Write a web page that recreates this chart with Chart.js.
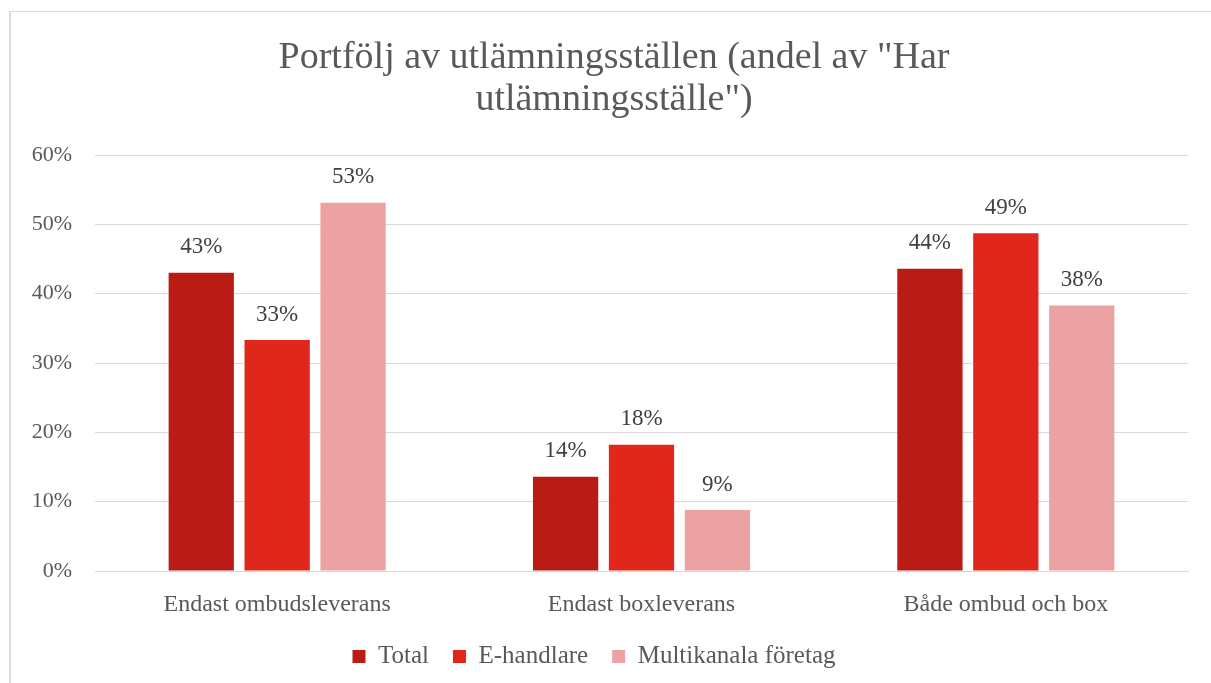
<!DOCTYPE html>
<html>
<head>
<meta charset="utf-8">
<script src="https://cdn.jsdelivr.net/npm/chart.js@4"></script>
<style>
    html, body { margin: 0; padding: 0; background: #fff; }
    #wrap { position: relative; width: 1211px; height: 683px; }
    #frame { position: absolute; left: 9px; top: 11px; right: -10px; bottom: -10px;
             border-left: 2px solid #d9d9d9; border-top: 1px solid #d9d9d9; }
    canvas { position: absolute; left: 0; top: 0; }
</style>
</head>
<body>
<div id="wrap">
    <div id="frame"></div>
    <canvas id="chart" width="1211" height="683"></canvas>
</div>
<script>
const categories = ['Endast ombudsleverans', 'Endast boxleverans', 'Både ombud och box'];
const totalValues = [43.0, 13.6, 43.6];
const eHandlareValues = [33.3, 18.2, 48.7];
const multikanalaValues = [53.1, 8.8, 38.3];
const yTicks = [0, 10, 20, 30, 40, 50, 60];
const titleLines = ['Portfölj av utlämningsställen (andel av "Har', 'utlämningsställe")'];

const fontFamily = '"Liberation Serif", "DejaVu Serif", serif';
const textColor = '#595959';

// draws the percentage above each bar
const valueLabels = {
    id: 'valueLabels',
    afterDatasetsDraw(chart) {
        const ctx = chart.ctx;
        ctx.save();
        ctx.font = '23px ' + fontFamily;
        ctx.fillStyle = '#404040';
        ctx.textAlign = 'center';
        ctx.textBaseline = 'bottom';
        chart.data.datasets.forEach(function(ds, i) {
            chart.getDatasetMeta(i).data.forEach(function(bar, j) {
                ctx.fillText(Math.round(ds.data[j]) + '%', bar.x, bar.y - 14);
            });
        });
        ctx.restore();
    }
};

// title centred on the whole frame, not on the plot
const frameTitle = {
    id: 'frameTitle',
    afterDraw(chart) {
        const ctx = chart.ctx;
        ctx.save();
        ctx.font = '38px ' + fontFamily;
        ctx.fillStyle = textColor;
        ctx.textAlign = 'center';
        ctx.textBaseline = 'middle';
        titleLines.forEach(function(line, i) {
            ctx.fillText(line, 614, 58 + i * 42);
        });
        ctx.restore();
    }
};

const chartCtx = document.getElementById('chart');
new Chart(chartCtx, {
    type: 'bar',
    data: {
        labels: categories,
        datasets: [
            { label: 'Total', data: totalValues, backgroundColor: '#b91c14' },
            { label: 'E-handlare', data: eHandlareValues, backgroundColor: '#e1261c' },
            { label: 'Multikanala företag', data: multikanalaValues, backgroundColor: '#eca2a2' }
        ]
    },
    options: {
        responsive: false,
        animation: false,
        layout: { padding: { left: 0, right: 23, top: 155, bottom: 4 } },
        datasets: {
            bar: { barPercentage: 0.86, categoryPercentage: 0.625 }
        },
        scales: {
            x: {
                afterFit: function(scale) { scale.height = 49; },
                grid: { display: false, drawTicks: false },
                border: { color: '#d9d9d9', width: 1 },
                ticks: { color: textColor, font: { family: fontFamily, size: 24 }, padding: 19 }
            },
            y: {
                min: 0,
                max: 60,
                afterFit: function(scale) { scale.width = 95; },
                afterBuildTicks: function(scale) {
                    scale.ticks = yTicks.map(function(v) { return { value: v }; });
                },
                grid: { color: '#d9d9d9', lineWidth: 1, drawTicks: false },
                border: { display: false },
                ticks: {
                    color: textColor,
                    font: { family: fontFamily, size: 22 },
                    padding: 23,
                    callback: function(v) { return v + '%'; }
                }
            }
        },
        plugins: {
            title: { display: false },
            legend: {
                position: 'bottom',
                labels: {
                    color: textColor,
                    font: { family: fontFamily, size: 25 },
                    boxWidth: 13,
                    boxHeight: 13,
                    padding: 24
                }
            },
            tooltip: { enabled: false }
        }
    },
    plugins: [valueLabels, frameTitle]
});
</script>
</body>
</html>
